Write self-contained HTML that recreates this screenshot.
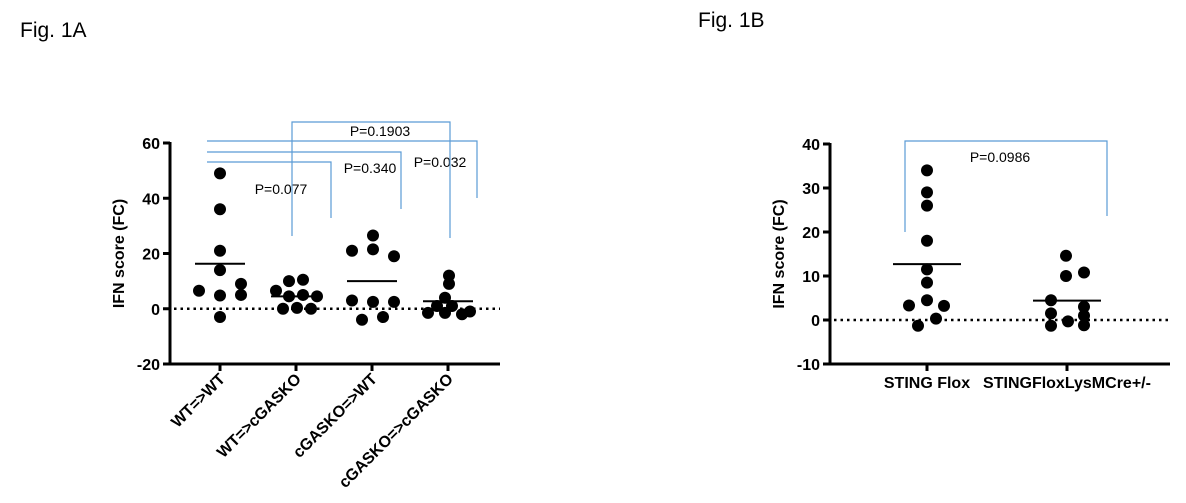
<!DOCTYPE html>
<html><head><meta charset="utf-8"><style>
html,body{margin:0;padding:0;background:#fff;}
svg{display:block;font-family:"Liberation Sans",Arial,sans-serif;}
.t{font-weight:bold;font-size:16px;fill:#000;}
.p{font-size:14px;fill:#000;}
</style></head><body>
<svg id="s" width="1186" height="503" viewBox="0 0 1186 503">
<text x="20" y="37" font-size="21">Fig. 1A</text>
<text x="698" y="27" font-size="21">Fig. 1B</text>
</svg>
<script>
const aCats=["WT=>WT","WT=>cGASKO","cGASKO=>WT","cGASKO=>cGASKO"];
const aVals=[[49,36,21,14,6.5,4.8,9,5,-3],[6.5,10,10.5,4.5,5,4.5,0,0.3,0],[21,26.5,21.5,19,3,2.5,2.5,-4,-3],[12,9,4,1,1,-1.5,-1.5,-2,-1]];
const aOff=[[0,0,0,0,-21,0,21,21,0],[-20,-7,7,-7,7,21,-13,1,15],[-20,1,1,22,-20,1,22,-10,11],[1,1,-3,-11,4,-20,-3,14,22]];
const aMeans=[16.3,4.5,10,2.7];
const aTicks=[-20,0,20,40,60];
const bCats=["STING Flox","STINGFloxLysMCre+/-"];
const bVals=[[34,29,26,18,11.5,8.5,3.3,4.5,3.2,0.3,-1.3],[14.6,10,10.8,4.5,1.5,-0.3,3,1,-1.3,-1.2]];
const bOff=[[0,0,0,0,0,0,-18,0,17,9,-9],[-1,-1,17,-16,-16,1,17,17,-16,17]];
const bMeans=[12.7,4.4];
const bTicks=[-10,0,10,20,30,40];
const aP=["P=0.077","P=0.340","P=0.032","P=0.1903"];
const bP=["P=0.0986"];
const s=document.getElementById('s');
const NS="http://www.w3.org/2000/svg";
function mk(t,a,txt){const e=document.createElementNS(NS,t);for(const k in a)e.setAttribute(k,a[k]);if(txt!=null)e.textContent=txt;s.appendChild(e);return e;}
function chart(o){
 const y=v=>o.y0-(v-o.vmin)*(o.y0-o.y1)/(o.vmax-o.vmin);
 let e=mk('line',{x1:o.ax,y1:o.y1-1,x2:o.ax,y2:o.y0+1,stroke:'#000','stroke-width':3});
 
 e=mk('line',{x1:o.ax,y1:o.y0,x2:o.axEnd,y2:o.y0,stroke:'#000','stroke-width':3});
 
 o.ticks.forEach(t=>{
  mk('line',{x1:o.ax-7,y1:y(t),x2:o.ax,y2:y(t),stroke:'#000','stroke-width':3});
  e=mk('text',{x:o.ax-10,y:y(t)+6,'text-anchor':'end',class:'t'},t);
  
 });
 e=mk('text',{transform:`translate(${o.ax-46},${y((o.vmin+o.vmax)/2)}) rotate(-90)`,'text-anchor':'middle',class:'t','font-size':17},'IFN score (FC)');
 
 e=mk('line',{x1:o.ax+4,y1:y(0),x2:o.axEnd,y2:y(0),stroke:'#000','stroke-width':2.5,'stroke-dasharray':'2.5,4'});
 
 o.cats.forEach((c,i)=>{
  const cx=o.cx[i];
  mk('line',{x1:cx,y1:o.y0,x2:cx,y2:o.y0+7,stroke:'#000','stroke-width':3});
  if(o.rot){e=mk('text',{transform:`translate(${cx+6},${o.y0+16}) rotate(-45)`,'text-anchor':'end',class:'t','font-size':17},c);}
  else{e=mk('text',{x:cx,y:o.y0+24,'text-anchor':'middle',class:'t','font-size':17},c);}
  
  o.vals[i].forEach((v,j)=>{
   e=mk('circle',{cx:cx+o.off[i][j],cy:y(v),r:6,fill:'#000'});
   
  });
  e=mk('line',{x1:cx-o.mw,x2:cx+o.mw,y1:y(o.means[i]),y2:y(o.means[i]),stroke:'#000','stroke-width':2});
  
 });
}
chart({id:'fig1a',ax:170,axEnd:500,y0:364,y1:143,vmin:-20,vmax:60,ticks:aTicks,cats:aCats,vals:aVals,off:aOff,means:aMeans,cx:[220,296,372,448],mw:25,rot:true});
chart({id:'fig1b',ax:830,axEnd:1170,y0:364,y1:144,vmin:-10,vmax:40,ticks:bTicks,cats:bCats,vals:bVals,off:bOff,means:bMeans,cx:[927,1067],mw:34,rot:false});
function bracket(pts,label,tx,ty){
 let e=mk('polyline',{points:pts,fill:'none',stroke:'#5b9bd5','stroke-width':1.2});
 
 e=mk('text',{x:tx,y:ty,'text-anchor':'middle',class:'p'},label);
 
}
bracket('207,162 331,162 331,218',aP[0],281,194);
bracket('207,152 401,152 401,209',aP[1],370,173);
bracket('207,141 477,141 477,198',aP[2],440,167);
bracket('292,236 292,122 450,122 450,238',aP[3],380,136);
bracket('905,232 905,141 1107,141 1107,216',bP[0],1000,162);
</script>
</body></html>
